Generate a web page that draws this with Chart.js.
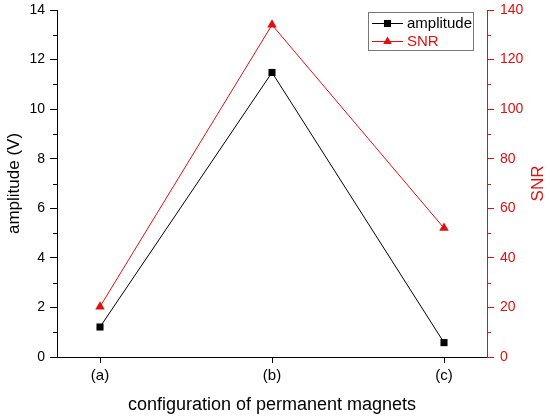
<!DOCTYPE html>
<html>
<head>
<meta charset="utf-8">
<script src="https://cdn.jsdelivr.net/npm/chart.js@4/dist/chart.umd.min.js"></script>
<style>
  html, body { margin: 0; padding: 0; background: #fff; }
  #wrap { width: 550px; height: 417px; }
</style>
</head>
<body>
<div id="wrap"><canvas id="magnetChart" width="550" height="417"></canvas></div>
<script>
const configs = ['(a)', '(b)', '(c)'];
const amplitude = [1.21, 11.48, 0.58];
const snr = [20.3, 134, 52];
const ampTicks = [0, 2, 4, 6, 8, 10, 12, 14];
const snrTicks = [0, 20, 40, 60, 80, 100, 120, 140];

const RED = '#e01010';
const FONT = 'Liberation Sans, Arial, sans-serif';

// minor ticks, rotated SNR title and legend box, drawn by hand
const extras = {
    id: 'extras',
    afterDraw(chart) {
        const c = chart.ctx;
        const yl = chart.scales.y;
        const yr = chart.scales.snr;
        c.save();
        c.lineWidth = 1;
        c.strokeStyle = '#000';
        for (let i = 0; i < ampTicks.length - 1; i++) {
            const py = Math.round(yl.getPixelForValue((ampTicks[i] + ampTicks[i + 1]) / 2)) + 0.5;
            c.beginPath(); c.moveTo(yl.right - 4, py); c.lineTo(yl.right, py); c.stroke();
        }
        c.strokeStyle = RED;
        for (let i = 0; i < snrTicks.length - 1; i++) {
            const py = Math.round(yr.getPixelForValue((snrTicks[i] + snrTicks[i + 1]) / 2)) + 0.5;
            c.beginPath(); c.moveTo(yr.left, py); c.lineTo(yr.left + 4, py); c.stroke();
        }

        // right axis title reads bottom-to-top like the left one
        c.save();
        c.translate(yr.right - 12, (yr.top + yr.bottom) / 2);
        c.rotate(-Math.PI / 2);
        c.fillStyle = RED;
        c.font = '17px ' + FONT;
        c.textAlign = 'center';
        c.textBaseline = 'middle';
        c.fillText('SNR', 0, 0);
        c.restore();

        // legend
        const bx = 368.5, by = 12.5, bw = 105, bh = 38;
        c.fillStyle = '#fff';
        c.fillRect(bx, by, bw, bh);
        c.strokeStyle = '#777';
        c.strokeRect(bx, by, bw, bh);
        const rows = [
            { text: 'amplitude', color: '#000', style: 'rect', r: 5, y: 23 },
            { text: 'SNR', color: RED, style: 'triangle', r: 5, y: 41 }
        ];
        c.font = '15px ' + FONT;
        c.textBaseline = 'middle';
        rows.forEach(row => {
            c.strokeStyle = row.color;
            c.fillStyle = row.color;
            c.beginPath(); c.moveTo(372, row.y + 0.5); c.lineTo(403, row.y + 0.5); c.stroke();
            Chart.helpers.drawPoint(c, { pointStyle: row.style, radius: row.r, borderWidth: 0 }, 387.5, row.y + 0.5);
            c.fillText(row.text, 407, row.y + 1);
        });
        c.restore();
    }
};

// keep the plot box fixed: no extra room reserved for half tick labels
const noPad = s => { s.paddingTop = 0; s.paddingBottom = 0; s.paddingLeft = 0; s.paddingRight = 0; };

const ctx = document.getElementById('magnetChart').getContext('2d');
const magnetChart = new Chart(ctx, {
    type: 'line',
    data: {
        datasets: [{
            label: 'amplitude',
            data: amplitude.map((v, i) => ({ x: i, y: v })),
            borderColor: '#000',
            backgroundColor: '#000',
            borderWidth: 1,
            pointStyle: 'rect',
            pointRadius: 5,
            pointBorderWidth: 0,
            yAxisID: 'y'
        }, {
            label: 'SNR',
            data: snr.map((v, i) => ({ x: i, y: v })),
            borderColor: RED,
            backgroundColor: RED,
            borderWidth: 1,
            pointStyle: 'triangle',
            pointRadius: 5.5,
            pointBorderWidth: 0,
            yAxisID: 'snr'
        }]
    },
    options: {
        responsive: false,
        animation: false,
        layout: { padding: { top: 10, left: 0, right: 0, bottom: 0 } },
        plugins: {
            legend: { display: false },
            tooltip: { enabled: false }
        },
        scales: {
            x: {
                type: 'linear',
                min: -0.25,
                max: 2.25,
                afterBuildTicks: s => { s.ticks = configs.map((_, i) => ({ value: i })); },
                afterFit: s => { s.height = 60; noPad(s); },
                ticks: {
                    callback: v => configs[v],
                    color: '#000',
                    font: { family: FONT, size: 15 },
                    padding: 4,
                    maxRotation: 0
                },
                grid: { display: true, drawOnChartArea: false, tickLength: 6, color: '#000' },
                border: { display: true, color: '#000', width: 1 },
                title: {
                    display: true,
                    text: 'configuration of permanent magnets',
                    color: '#000',
                    font: { family: FONT, size: 18 },
                    padding: { bottom: 1 }
                }
            },
            y: {
                position: 'left',
                min: 0,
                max: 14,
                afterBuildTicks: s => { s.ticks = ampTicks.map(v => ({ value: v })); },
                afterFit: s => { s.width = 57; noPad(s); },
                ticks: {
                    color: '#000',
                    font: { family: FONT, size: 14 },
                    padding: 5
                },
                grid: { display: true, drawOnChartArea: false, tickLength: 7, color: '#000' },
                border: { display: true, color: '#000', width: 1 },
                title: {
                    display: true,
                    text: 'amplitude (V)',
                    color: '#000',
                    font: { family: FONT, size: 17 },
                    padding: { top: 4 }
                }
            },
            snr: {
                position: 'right',
                min: 0,
                max: 140,
                afterBuildTicks: s => { s.ticks = snrTicks.map(v => ({ value: v })); },
                afterFit: s => { s.width = 63; noPad(s); },
                ticks: {
                    color: RED,
                    font: { family: FONT, size: 14 },
                    padding: 6
                },
                grid: { display: true, drawOnChartArea: false, tickLength: 7, color: RED },
                border: { display: true, color: RED, width: 1 },
                title: { display: false }
            }
        }
    },
    plugins: [extras]
});
</script>
</body>
</html>
